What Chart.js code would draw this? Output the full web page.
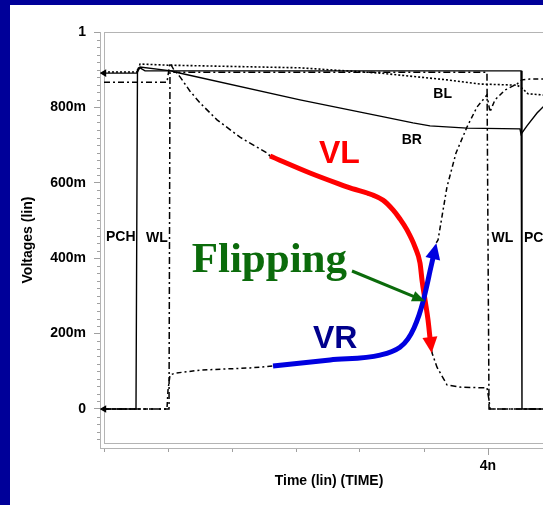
<!DOCTYPE html>
<html><head><meta charset="utf-8">
<script src="https://cdn.jsdelivr.net/npm/chart.js@4"></script>
<style>
html,body{margin:0;padding:0;background:#fff;overflow:hidden;width:543px;height:505px;}
#wrap{position:relative;width:543px;height:505px;overflow:hidden;background:#fff;}
canvas{position:absolute;left:0;top:0;}
.bb{position:absolute;background:#000099;}
</style></head><body>
<div id="wrap">
<canvas id="c" width="575" height="505" style="width:575px;height:505px"></canvas>
<div class="bb" style="left:0;top:0;width:10px;height:505px"></div>
<div class="bb" style="left:0;top:0;width:543px;height:5px"></div>
</div>
<script>
// ---- data (time in ns, voltage in V) ----
const pchT = [3.4, 3.45, 3.4523, 3.4563, 3.4641, 4.0516, 4.0531, 4.1125];
const pchV = [0, 0, 0.900, 0.905, 0.897, 0.897, 0, 0];

const wlT = [3.4, 3.5016, 3.5031, 3.9984, 4.0016, 4.1125];
const wlV = [0, 0, 0.893, 0.893, 0, 0];

const blT = [3.4, 3.4516, 3.4563, 3.5, 3.7063, 3.8313, 3.9359, 3.9875, 4.0453, 4.0531, 4.0625, 4.0859, 4.1125];
const blV = [0.894, 0.894, 0.915, 0.912, 0.905, 0.891, 0.873, 0.862, 0.859, 0.851, 0.836, 0.833, 0.833];

const brT = [3.4, 3.4516, 3.4563, 3.5047, 3.5109, 3.7063, 3.8313, 3.8828, 3.9094, 3.9672, 4.05, 4.0516, 4.0609, 4.0766, 4.0859, 4.1125];
const brV = [0.891, 0.891, 0.907, 0.897, 0.894, 0.820, 0.777, 0.759, 0.751, 0.745, 0.743, 0.729, 0.751, 0.785, 0.801, 0.833];

const vlT = [3.4, 3.4984, 3.5031, 3.5094, 3.5188, 3.5344, 3.55, 3.5766, 3.6125, 3.6547, 3.6594, 3.7219, 3.7797, 3.8359, 3.8516, 3.8625, 3.8734, 3.8859, 3.8938, 3.8969, 3.9016, 3.9063, 3.9094, 3.9125, 3.9203, 3.9359, 3.9563, 3.9984, 4.0016, 4.0031, 4.1125];
const vlV = [0.867, 0.867, 0.918, 0.899, 0.881, 0.843, 0.812, 0.767, 0.721, 0.679, 0.671, 0.626, 0.589, 0.554, 0.528, 0.504, 0.475, 0.430, 0.387, 0.342, 0.289, 0.236, 0.188, 0.149, 0.111, 0.064, 0.058, 0.056, 0.024, 0, 0];

const vrT = [3.4, 3.4984, 3.5, 3.5031, 3.5109, 3.55, 3.6281, 3.6641, 3.7531, 3.8313, 3.8625, 3.875, 3.8844, 3.8922, 3.8984, 3.9047, 3.9094, 3.9141, 3.9188, 3.9219, 3.9359, 3.95, 3.9672, 3.9828, 3.9984, 4.0031, 4.0109, 4.0266, 4.0453, 4.0531, 4.0656, 4.1125];
const vrV = [0, 0, 0.050, 0.090, 0.095, 0.103, 0.109, 0.114, 0.130, 0.143, 0.164, 0.186, 0.215, 0.249, 0.284, 0.329, 0.366, 0.401, 0.440, 0.448, 0.589, 0.679, 0.748, 0.801, 0.833, 0.788, 0.820, 0.846, 0.862, 0.873, 0.875, 0.875];

const redT = [3.6594, 3.7219, 3.7797, 3.8359, 3.8516, 3.8625, 3.8734, 3.8859, 3.8938, 3.8969, 3.9016, 3.9063, 3.9094];
const redV = [0.671, 0.626, 0.589, 0.554, 0.528, 0.504, 0.475, 0.430, 0.387, 0.342, 0.289, 0.236, 0.188];

const blueT = [3.6641, 3.7531, 3.8313, 3.8625, 3.875, 3.8844, 3.8922, 3.8984, 3.9047, 3.9094, 3.9141];
const blueV = [0.114, 0.130, 0.143, 0.164, 0.186, 0.215, 0.249, 0.284, 0.329, 0.366, 0.401];

const greenT = [3.7875, 3.8844];
const greenV = [0.366, 0.298];

// ticks
const yTickValues = [0, 0.2, 0.4, 0.6, 0.8, 1.0];
const yTickLabels = ['0', '200m', '400m', '600m', '800m', '1'];
const yMinorValues = [-0.08,-0.06,-0.04,-0.02,0.02,0.04,0.06,0.08,0.1,0.12,0.14,0.16,0.18,0.22,0.24,0.26,0.28,0.3,0.32,0.34,0.36,0.38,0.42,0.44,0.46,0.48,0.5,0.52,0.54,0.56,0.58,0.62,0.64,0.66,0.68,0.7,0.72,0.74,0.76,0.78,0.82,0.84,0.86,0.88,0.9,0.92,0.94,0.96,0.98];
const xTickValues = [3.4, 3.5, 3.6, 3.7, 3.8, 3.9, 4.0, 4.1];
const xTickLabels = ['', '', '', '', '', '', '4n', ''];

// annotations
const labelTexts = ['PCH', 'WL', 'WL', 'PCH', 'BL', 'BR'];
const labelT = [3.4031, 3.4656, 4.0055, 4.0563, 3.9146, 3.8652];
const labelV = [0.4456, 0.443, 0.443, 0.443, 0.826, 0.704];
const bigTexts = ['VL', 'VR', 'Flipping'];
const bigT = [3.7359, 3.7266, 3.537];
const bigV = [0.6525, 0.161, 0.364];

const frameT = 3.4, frameV = -0.09;

function pts(t, v) { return t.map((x, i) => ({x: x, y: v[i]})); }

Chart.defaults.font.family = '"Liberation Sans", Arial, sans-serif';
Chart.defaults.color = '#000';

const BLACK = '#000000';
const datasets = [
  {label:'arrow', data: pts(greenT, greenV), borderColor:'#0b6b0b', borderWidth:3, arrowHead:{len:12, width:11}},
  {label:'VRhi', data: pts(blueT, blueV), borderColor:'#0000e0', borderWidth:5, cubicInterpolationMode:'monotone', arrowHead:{len:15, width:15}},
  {label:'VLhi', data: pts(redT, redV), borderColor:'#ff0000', borderWidth:5, cubicInterpolationMode:'monotone', arrowHead:{len:15, width:15}},
  {label:'VL', data: pts(vlT, vlV), borderColor:BLACK, borderWidth:1.5, borderDash:[6,3,2,3]},
  {label:'VR', data: pts(vrT, vrV), borderColor:BLACK, borderWidth:1.5, borderDash:[5,3,2,3]},
  {label:'WL', data: pts(wlT, wlV), borderColor:BLACK, borderWidth:1.5, borderDash:[7,3,2,3]},
  {label:'BL', data: pts(blT, blV), borderColor:BLACK, borderWidth:1.6, borderDash:[2,2]},
  {label:'BR', data: pts(brT, brV), borderColor:BLACK, borderWidth:1.4,
    pointRadius: brT.map((_, i) => i === 0 ? 3 : 0), pointStyle:'triangle', rotation:270, pointBackgroundColor:BLACK},
  {label:'PCH', data: pts(pchT, pchV), borderColor:BLACK, borderWidth:1.4,
    pointRadius: pchT.map((_, i) => i === 0 ? 3 : 0), pointStyle:'triangle', rotation:270, pointBackgroundColor:BLACK}
];
datasets.forEach(d => { if (d.pointRadius === undefined) d.pointRadius = 0; d.fill = false; d.tension = 0; d.borderCapStyle = 'butt'; });

const deco = {
  id: 'deco',
  beforeDatasetsDraw(chart) {
    const {ctx, chartArea, scales} = chart;
    const xs = scales.x, ys = scales.y;
    ctx.save();
    // plot frame
    const x0 = Math.round(xs.getPixelForValue(frameT)) + 0.5;
    const y0 = Math.round(ys.getPixelForValue(frameV)) + 0.5;
    ctx.strokeStyle = '#b4b4b4';
    ctx.lineWidth = 1;
    ctx.strokeRect(x0, chartArea.top + 0.5, chartArea.right + 20 - x0, y0 - chartArea.top - 0.5);
    // minor y ticks
    ctx.strokeStyle = '#a0a0a0';
    ctx.beginPath();
    yMinorValues.forEach(v => {
      const y = Math.round(ys.getPixelForValue(v)) + 0.5;
      ctx.moveTo(chartArea.left - 3, y);
      ctx.lineTo(chartArea.left, y);
    });
    // longer 4n tick
    const x4 = Math.round(xs.getPixelForValue(4.0)) + 0.5;
    ctx.moveTo(x4, chartArea.bottom);
    ctx.lineTo(x4, chartArea.bottom + 7);
    ctx.stroke();
    ctx.restore();
  },
  afterDatasetsDraw(chart) {
    const {ctx, scales} = chart;
    const xs = scales.x, ys = scales.y;
    ctx.save();
    // arrowheads
    chart.data.datasets.forEach((ds, i) => {
      if (!ds.arrowHead) return;
      const pts = chart.getDatasetMeta(i).data;
      const p1 = pts[pts.length - 1], p0 = pts[pts.length - 2];
      let dx = p1.x - p0.x, dy = p1.y - p0.y;
      const L = Math.hypot(dx, dy); dx /= L; dy /= L;
      const {len, width} = ds.arrowHead;
      const tipX = p1.x + dx * len, tipY = p1.y + dy * len;
      const bx = p1.x - dx * 1, by = p1.y - dy * 1;
      ctx.fillStyle = ds.borderColor;
      ctx.beginPath();
      ctx.moveTo(tipX, tipY);
      ctx.lineTo(bx - dy * width / 2, by + dx * width / 2);
      ctx.lineTo(bx + dy * width / 2, by - dx * width / 2);
      ctx.closePath();
      ctx.fill();
    });
    // small labels
    ctx.fillStyle = '#000';
    ctx.font = 'bold 14px "Liberation Sans", Arial, sans-serif';
    ctx.textBaseline = 'alphabetic';
    ctx.textAlign = 'left';
    labelTexts.forEach((t, i) => {
      ctx.fillText(t, xs.getPixelForValue(labelT[i]), ys.getPixelForValue(labelV[i]));
    });
    // big labels
    const bigFonts = ['bold 32px "Liberation Sans", Arial, sans-serif', 'bold 32px "Liberation Sans", Arial, sans-serif', 'bold 43px "Liberation Serif", "Times New Roman", serif'];
    const bigColors = ['#ff0000', '#00008c', '#0b6b0b'];
    bigTexts.forEach((t, i) => {
      ctx.font = bigFonts[i];
      ctx.fillStyle = bigColors[i];
      ctx.fillText(t, xs.getPixelForValue(bigT[i]), ys.getPixelForValue(bigV[i]));
    });
    ctx.restore();
  }
};

new Chart(document.getElementById('c'), {
  type: 'line',
  data: { datasets: datasets },
  options: {
    responsive: false,
    animation: false,
    events: [],
    layout: { padding: { left: 0, right: 17, top: 32, bottom: 0 } },
    plugins: { legend: { display: false }, tooltip: { enabled: false } },
    scales: {
      x: {
        type: 'linear', min: 3.39375, max: 4.109375,
        afterBuildTicks(s) { s.ticks = xTickValues.map(v => ({value: v})); },
        afterFit(s) { s.height = 57; },
        ticks: { autoSkip: false, maxRotation: 0, padding: 6, color: '#000',
          font: { size: 14, weight: 'bold' },
          callback: (v, i) => xTickLabels[i] },
        grid: { drawOnChartArea: false, drawTicks: true, tickLength: 4, tickColor: '#a0a0a0' },
        border: { display: true, color: '#b4b4b4', width: 1 },
        title: { display: true, text: 'Time (lin) (TIME)', color: '#000',
          font: { size: 14, weight: 'bold' }, padding: { top: 0, bottom: 15 } }
      },
      y: {
        type: 'linear', min: -0.1035, max: 1.0,
        afterBuildTicks(s) { s.ticks = yTickValues.map(v => ({value: v})); },
        afterFit(s) { s.width = 100; },
        ticks: { autoSkip: false, padding: 8, color: '#000',
          font: { size: 14, weight: 'bold' },
          callback: (v, i) => yTickLabels[i] },
        grid: { drawOnChartArea: false, drawTicks: true, tickLength: 6, tickColor: '#a0a0a0' },
        border: { display: true, color: '#b4b4b4', width: 1 },
        title: { display: true, text: 'Voltages (lin)', color: '#000',
          font: { size: 14, weight: 'bold' }, padding: { top: 20, bottom: 0 } }
      }
    }
  },
  plugins: [deco]
});
</script>
</body></html>
